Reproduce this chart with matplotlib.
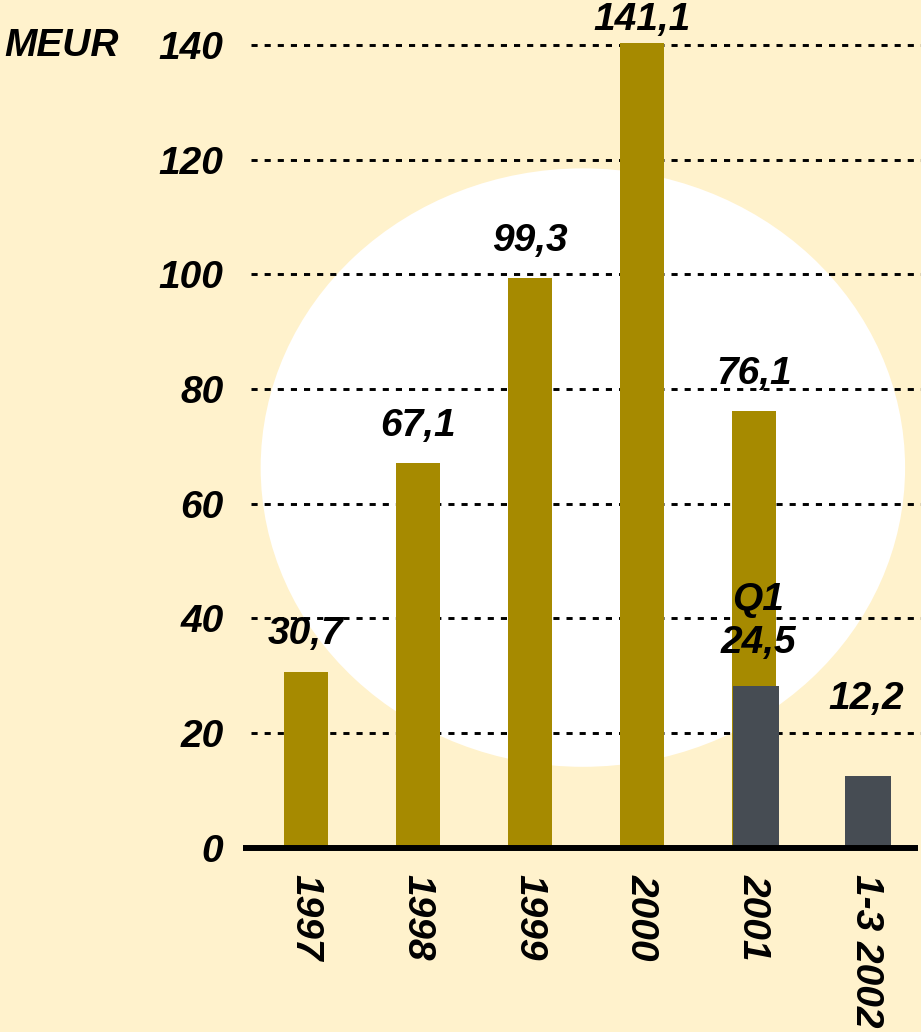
import numpy as np
import matplotlib.pyplot as plt
from matplotlib.patches import Ellipse

# Data
categories = ['1997', '1998', '1999', '2000', '2001', '1-3 2002']
year_values = [30.7, 67.1, 99.3, 141.1, 76.1]
year_labels = ['30,7', '67,1', '99,3', '141,1', '76,1']
q1_values = [28.3, 12.6]          # dark bars as drawn (2001 Q1, 1-3 2002)
q1_labels = ['Q1\n24,5', '12,2']
yticks = [0, 20, 40, 60, 80, 100, 120, 140]

gold = '#A68A00'
grey = '#464C53'
bg = '#FFF2CC'

plt.rcParams['font.family'] = ['Liberation Sans', 'DejaVu Sans']
fs = 28

fig = plt.figure(figsize=(9.21, 10.32), dpi=100, facecolor=bg)
ax = fig.add_axes([0.2638, 0.1783, 0.7362, 0.8217])
ax.set_facecolor(bg)
ax.set_xlim(-0.56, 5.49)
ax.set_ylim(0, 147.8)

# white circle behind everything
ax.add_patch(Ellipse((2.473, 66.3), 5.75, 104.3, facecolor='white',
                     edgecolor='none', zorder=0))

# dashed grid
for t in yticks[1:]:
    ax.plot([-0.49, 5.49], [t, t], color='black', lw=2.1,
            linestyle=(0, (2.1, 2.4)), zorder=1, clip_on=False)

x = np.arange(len(categories))
w = 0.39
bars = ax.bar(x[:5], year_values, width=w, color=gold, zorder=2)
# the value axis stops at 140, like the original chart: clip the bars there
clip = plt.Rectangle((-0.56, 0), 6.1, yticks[-1] + 0.3, transform=ax.transData)
for b in bars:
    b.set_clip_path(clip)
ax.bar(x[4:] + 0.02, q1_values, width=w + 0.02, color=grey, zorder=3)

# axis line
ax.plot([-0.56, 5.46], [0, 0], color='black', lw=4.3, zorder=4,
        solid_capstyle='butt', clip_on=False)

# value labels
top = max(year_values)
for xi, v, lab in zip(x[:5], year_values, year_labels):
    off = 18 if v == top else 27
    ax.annotate(lab, (xi, min(v, yticks[-1])), xytext=(0, off),
                textcoords='offset points', ha='center', va='center',
                fontsize=fs, fontweight='bold', fontstyle='italic', zorder=5,
                annotation_clip=False)
ax.annotate(q1_labels[0], (x[4] + 0.04, q1_values[0]), xytext=(0, 46),
            textcoords='offset points', ha='center', va='center',
            fontsize=fs, fontweight='bold', fontstyle='italic',
            linespacing=1.25, zorder=5)
ax.annotate(q1_labels[1], (x[5], q1_values[1]), xytext=(0, 55),
            textcoords='offset points', ha='center', va='center',
            fontsize=fs, fontweight='bold', fontstyle='italic', zorder=5)

# ticks
ax.set_yticks(yticks)
ax.set_yticklabels([str(t) for t in yticks], fontsize=fs, fontweight='bold',
                   fontstyle='italic')
ax.set_xticks(x)
ax.set_xticklabels(categories, fontsize=fs, fontweight='bold',
                   fontstyle='italic', rotation=-90, va='top', ha='center')
ax.tick_params(axis='y', length=0, pad=14)
ax.tick_params(axis='x', length=0, pad=19)
for s in ax.spines.values():
    s.set_visible(False)

fig.text(0.005, 1 - 46 / 1032, 'MEUR', fontsize=fs, fontweight='bold',
         fontstyle='italic', va='center', ha='left')

fig.savefig('out.png', dpi=100, facecolor=bg)
